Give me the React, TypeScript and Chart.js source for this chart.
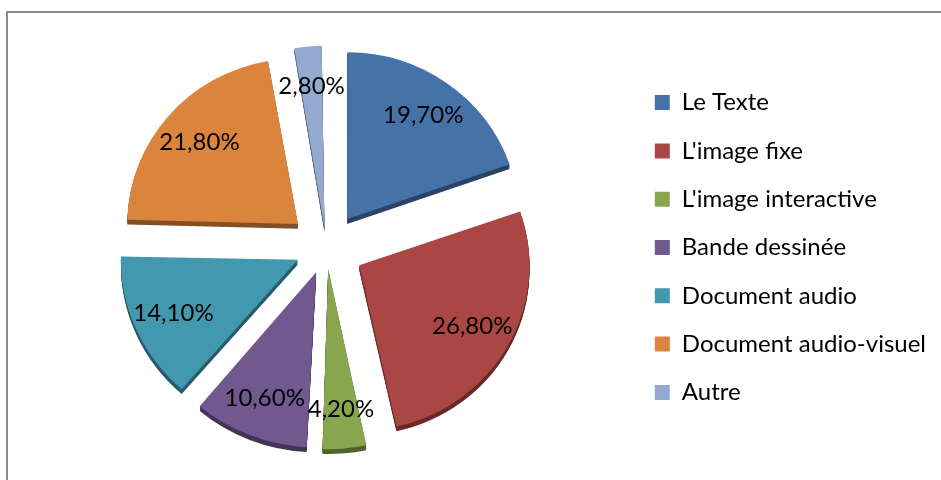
import React, { useEffect, useRef } from 'react';
import { Chart, registerables } from 'chart.js';

Chart.register(...registerables);

const categories = [
  'Le Texte',
  "L'image fixe",
  "L'image interactive",
  'Bande dessinée',
  'Document audio',
  'Document audio-visuel',
  'Autre',
];
const percentages = [19.7, 26.8, 4.2, 10.6, 14.1, 21.8, 2.8];
const sliceColors = ['#4572A7', '#AA4643', '#89A54E', '#71588F', '#4198AF', '#DB843D', '#93A9CF'];

const EXPLODE = 38; // uniform explosion distance in px
const RADIUS = 170;
const TILT = 0.97; // slight vertical squash of the 3D view
const DEPTH = 5;
const LABEL_FRACTION = 0.76;
const FONT_FAMILY = 'Lato, "Open Sans", sans-serif';
const FONT_SIZE = 24;

function formatPct(v: number) {
  return v.toFixed(2).replace('.', ',') + '%';
}

function arcShift(arc: any) {
  const offset = (arc.options.offset || 0) / 4;
  const circ = arc.circumference || 0;
  const fix = 1 - Math.sin(Math.min(Math.PI, circ));
  return offset + offset * fix;
}

const tiltDepthPlugin = {
  id: 'tiltDepth',
  beforeDatasetsDraw(chart: any) {
    const ctx = chart.ctx;
    const meta = chart.getDatasetMeta(0);
    const first = meta.data[0];
    if (!first) return;
    const cx = first.x;
    const cy = first.y;
    ctx.save();
    ctx.translate(cx, cy);
    ctx.scale(1, TILT);
    ctx.translate(-cx, -cy);
    for (let d = DEPTH; d >= 1; d--) {
      ctx.save();
      ctx.translate(0, d);
      ctx.filter = 'brightness(0.6)';
      meta.data.forEach((a: any) => a.draw(ctx));
      ctx.restore();
    }
  },
  afterDatasetsDraw(chart: any) {
    const meta = chart.getDatasetMeta(0);
    if (!meta.data[0]) return;
    chart.ctx.restore();
  },
};

const labelPlugin = {
  id: 'sliceLabels',
  afterDatasetsDraw(chart: any) {
    const ctx = chart.ctx;
    const meta = chart.getDatasetMeta(0);
    ctx.save();
    ctx.font = `${FONT_SIZE}px ${FONT_FAMILY}`;
    ctx.fillStyle = '#000';
    ctx.textAlign = 'center';
    ctx.textBaseline = 'middle';
    meta.data.forEach((arc: any, i: number) => {
      const { x, y, startAngle, endAngle, outerRadius } = arc.getProps(
        ['x', 'y', 'startAngle', 'endAngle', 'outerRadius'],
        true
      );
      const mid = (startAngle + endAngle) / 2;
      const dist = arcShift(arc) + outerRadius * LABEL_FRACTION;
      const lx = x + Math.cos(mid) * dist;
      const ly = y + Math.sin(mid) * dist * TILT;
      ctx.fillText(formatPct(percentages[i]), lx, ly);
    });
    ctx.restore();
  },
};

export default function App() {
  const canvasRef = useRef<HTMLCanvasElement | null>(null);

  useEffect(() => {
    const canvas = canvasRef.current;
    if (!canvas) return;
    const total = percentages.reduce((a, b) => a + b, 0);
    const chart = new Chart(canvas, {
      type: 'pie',
      data: {
        labels: categories,
        datasets: [
          {
            data: percentages,
            backgroundColor: sliceColors,
            borderWidth: 0,
            hoverOffset: 0,
            offset: (c: any) => {
              if (c.dataIndex === undefined) return 0;
              const circ = (percentages[c.dataIndex] / total) * Math.PI * 2;
              const fix = 1 - Math.sin(Math.min(Math.PI, circ));
              return (4 * EXPLODE) / (1 + fix);
            },
          } as any,
        ],
      },
      options: {
        responsive: false,
        animation: false,
        events: [],
        radius: RADIUS,
        layout: { padding: { left: 22, top: 15, right: 5, bottom: 0 } },
        plugins: {
          legend: {
            position: 'right',
            labels: {
              boxWidth: 15,
              boxHeight: 15,
              padding: 24.3,
              color: '#000',
              font: { family: FONT_FAMILY, size: FONT_SIZE },
            },
          },
          tooltip: { enabled: false },
        },
      } as any,
      plugins: [tiltDepthPlugin, labelPlugin],
    });
    return () => chart.destroy();
  }, []);

  return (
    <div
      style={{
        position: 'absolute',
        left: 0,
        top: 0,
        width: 941,
        height: 480,
        overflow: 'hidden',
        background: '#fff',
      }}
    >
      <div
        style={{
          position: 'absolute',
          left: 6,
          top: 11,
          width: 960,
          height: 500,
          borderTop: '2px solid #8c8c8c',
          borderLeft: '2px solid #8c8c8c',
        }}
      />
      <canvas
        ref={canvasRef}
        width={941}
        height={480}
        style={{ position: 'absolute', left: 0, top: 0, display: 'block' }}
      />
    </div>
  );
}
